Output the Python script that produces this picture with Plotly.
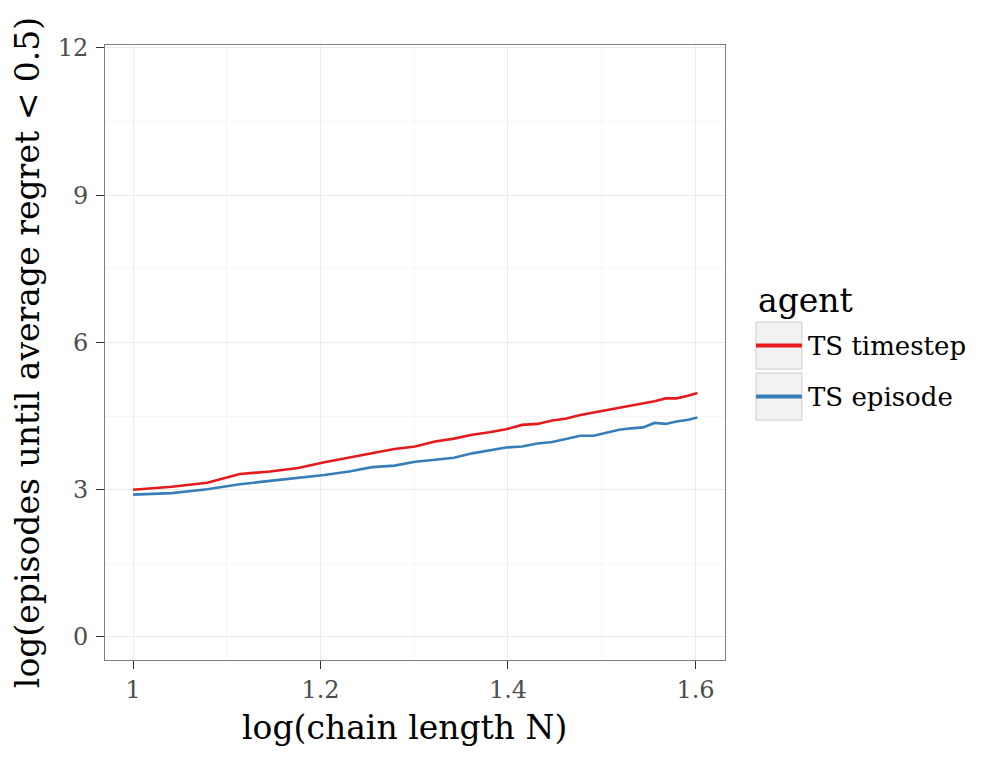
import numpy as np
import plotly.graph_objects as go

# chain lengths N = 10..40 ; x = log10(N)
chain_n = list(range(10, 41))
ts_timestep = [3.00, 3.06, 3.14, 3.32, 3.37, 3.44, 3.56, 3.66, 3.75, 3.83,
               3.88, 3.98, 4.04, 4.12, 4.17, 4.23, 4.32, 4.34, 4.41, 4.45,
               4.52, 4.57, 4.61, 4.66, 4.71, 4.75, 4.80, 4.86, 4.86, 4.91, 4.97]
ts_episode = [2.90, 2.93, 3.01, 3.11, 3.18, 3.24, 3.30, 3.37, 3.46, 3.49,
              3.57, 3.61, 3.65, 3.74, 3.80, 3.86, 3.88, 3.94, 3.97, 4.03,
              4.10, 4.10, 4.16, 4.22, 4.25, 4.27, 4.36, 4.34, 4.39, 4.42, 4.47]
series_names = ["TS timestep", "TS episode"]
series_colors = ["#e41a1c", "#377eb8"]
x_ticks = [1, 1.2, 1.4, 1.6]
x_ticklabels = ["1", "1.2", "1.4", "1.6"]
y_ticks = [0, 3, 6, 9, 12]
x_title = "log(chain length N)"
y_title = "log(episodes until average regret < 0.5)"
legend_title = "agent"

x_vals = np.log10(chain_n)

FONT = "DejaVu Serif"
fig = go.Figure()
for name, vals, col in zip(series_names, [ts_timestep, ts_episode], series_colors):
    fig.add_trace(go.Scatter(x=x_vals, y=vals, mode="lines", name=name,
                             line=dict(color=col, width=2.6), showlegend=False))

# x axis title
fig.add_annotation(text=x_title, xref="paper", yref="paper", x=0.483, y=-0.11,
                   xanchor="center", yanchor="middle", showarrow=False,
                   font=dict(family=FONT, size=33, color="black"))

# manual ggplot-style legend
fig.add_annotation(text=legend_title, xref="paper", yref="paper", x=1.05, y=0.585,
                   xanchor="left", yanchor="middle", showarrow=False,
                   font=dict(family=FONT, size=33, color="black"))
box_tops = [0.5496, 0.4667]
for i, (name, col) in enumerate(zip(series_names, series_colors)):
    top = box_tops[i]
    bot = top - 0.0766
    mid = (top + bot) / 2
    fig.add_shape(type="rect", xref="paper", yref="paper", x0=1.05, x1=1.124,
                  y0=bot, y1=top, fillcolor="#f2f2f2",
                  line=dict(color="#cccccc", width=1))
    fig.add_shape(type="line", xref="paper", yref="paper", x0=1.05, x1=1.124,
                  y0=mid, y1=mid, line=dict(color=col, width=4))
    fig.add_annotation(text=name, xref="paper", yref="paper", x=1.13, y=mid,
                       xanchor="left", yanchor="middle", showarrow=False,
                       font=dict(family=FONT, size=26, color="black"))

axis_common = dict(showline=True, mirror=True, linecolor="#7f7f7f", linewidth=1,
                   ticks="outside", ticklen=8, tickcolor="#333333", tickwidth=1,
                   showgrid=True, gridcolor="#ebebeb", gridwidth=1.1,
                   zeroline=False,
                   tickfont=dict(family=FONT, size=24, color="#4d4d4d"))

fig.update_layout(
    width=1000, height=757,
    margin=dict(l=97, r=283, t=37, b=105),
    paper_bgcolor="white", plot_bgcolor="white",
    xaxis=dict(range=[0.9701, 1.6315], tickvals=x_ticks, ticktext=x_ticklabels,
               minor=dict(tickvals=[1.1, 1.3, 1.5], showgrid=True,
                          gridcolor="#f6f6f6", gridwidth=0.8, ticklen=0),
               **axis_common),
    yaxis=dict(range=[-0.47, 12.06], tickvals=y_ticks, ticklabelstandoff=3,
               minor=dict(tickvals=[1.5, 4.5, 7.5, 10.5], showgrid=True,
                          gridcolor="#f6f6f6", gridwidth=0.8, ticklen=0),
               title=dict(text=y_title, standoff=16,
                          font=dict(family=FONT, size=33, color="black")),
               **axis_common),
)

fig.write_html("out.html")
